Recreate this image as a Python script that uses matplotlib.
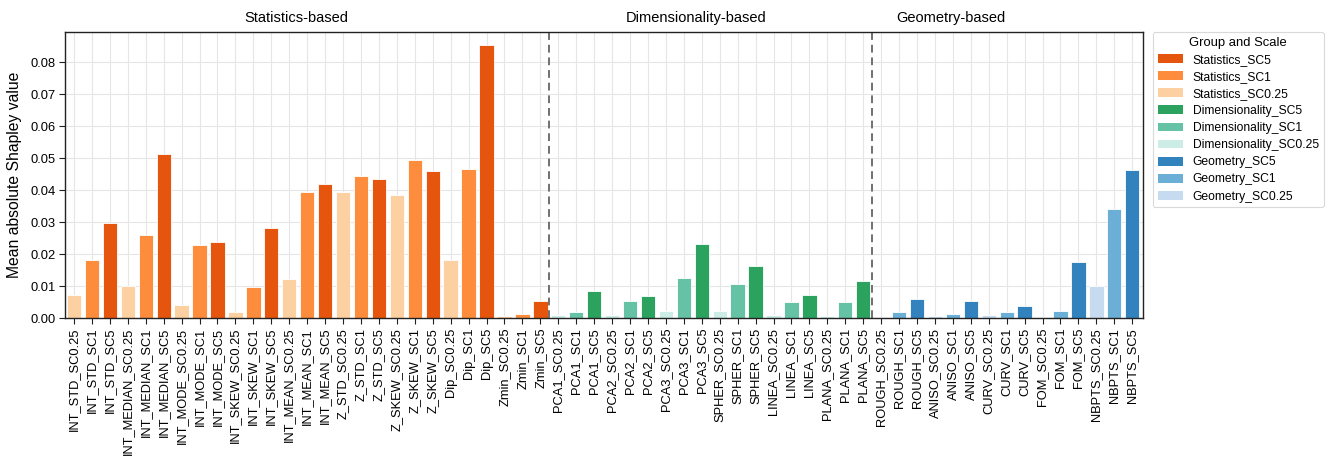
import numpy as np
import matplotlib
matplotlib.use("Agg")
import matplotlib.pyplot as plt
from matplotlib.patches import Patch

plt.rcParams['font.family'] = ['Liberation Sans', 'DejaVu Sans']

# feature prefixes per group, each evaluated at three scales
stat_features = ['INT_STD', 'INT_MEDIAN', 'INT_MODE', 'INT_SKEW', 'INT_MEAN',
                 'Z_STD', 'Z_SKEW', 'Dip', 'Zmin']
dim_features = ['PCA1', 'PCA2', 'PCA3', 'SPHER', 'LINEA', 'PLANA']
geo_features = ['ROUGH', 'ANISO', 'CURV', 'FOM', 'NBPTS']
scales = ['SC0.25', 'SC1', 'SC5']

# mean |SHAP| per feature, ordered SC0.25, SC1, SC5
stat_values = [0.0071, 0.0183, 0.0298,
               0.0101, 0.0260, 0.0514,
               0.0041, 0.0228, 0.0239,
               0.0020, 0.0097, 0.0281,
               0.0123, 0.0393, 0.0420,
               0.0393, 0.0444, 0.0435,
               0.0385, 0.0495, 0.0459,
               0.0180, 0.0465, 0.0852,
               0.0005, 0.0013, 0.0054]
dim_values = [0.0011, 0.0020, 0.0085,
              0.0011, 0.0052, 0.0069,
              0.0022, 0.0124, 0.0230,
              0.0023, 0.0105, 0.0164,
              0.0011, 0.0049, 0.0073,
              0.0007, 0.0049, 0.0117]
geo_values = [0.0003, 0.0019, 0.0059,
              0.0008, 0.0014, 0.0052,
              0.0011, 0.0019, 0.0039,
              0.0004, 0.0021, 0.0174,
              0.0100, 0.0340, 0.0463]

group_names = ['Statistics', 'Dimensionality', 'Geometry']
group_titles = ['Statistics-based', 'Dimensionality-based', 'Geometry-based']
palette = {
    'Statistics': {'SC5': '#e6550d', 'SC1': '#fd8d3c', 'SC0.25': '#fdd0a2'},
    'Dimensionality': {'SC5': '#2ca25f', 'SC1': '#66c2a4', 'SC0.25': '#ccece6'},
    'Geometry': {'SC5': '#3182bd', 'SC1': '#6baed6', 'SC0.25': '#c6dbef'},
}

labels, values, colors, groups = [], [], [], []
for gname, feats, vals in zip(group_names,
                              [stat_features, dim_features, geo_features],
                              [stat_values, dim_values, geo_values]):
    i = 0
    for f in feats:
        for sc in scales:
            labels.append(f + '_' + sc)
            values.append(vals[i])
            colors.append(palette[gname][sc])
            groups.append(gname)
            i += 1

x = np.arange(len(labels))

fig = plt.figure(figsize=(13.3, 4.61), dpi=100)
ax = fig.add_axes([0.0489, 0.310, 0.8105, 0.6206])

ax.set_axisbelow(True)
ax.grid(True, color='#e6e6e6', linewidth=0.8)
ax.bar(x, values, width=0.8, color=colors, edgecolor='white', linewidth=0.6)

# dashed separators between groups
n_stat = len(stat_values)
n_dim = len(dim_values)
for b in [n_stat - 0.5, n_stat + n_dim - 0.5]:
    ax.axvline(b, color='#707070', linestyle=(0, (4, 2.5)), linewidth=1.4)

ax.set_xlim(-0.5, len(labels) - 0.4)
ax.set_ylim(0, 0.0894)
ax.set_yticks(np.arange(0, 0.081, 0.01))
ax.set_yticklabels([f'{v:.2f}' for v in np.arange(0, 0.081, 0.01)], fontsize=9.3)
ax.set_xticks(x)
ax.set_xticklabels(labels, rotation=90, fontsize=9.3)
ax.tick_params(axis='both', direction='out', length=4, width=0.8, color='#222222', pad=3)
ax.set_ylabel('Mean absolute Shapley value', fontsize=11.3, labelpad=6)

for sp in ax.spines.values():
    sp.set_color('#222222')
    sp.set_linewidth(1.0)

# group headings above the axes
for title, xpos in zip(group_titles, [12.4, 34.7, 48.9]):
    ax.text(xpos, 1.05, title, transform=ax.get_xaxis_transform(),
            ha='center', va='center', fontsize=10.5)

handles = []
for gname in group_names:
    for sc in ['SC5', 'SC1', 'SC0.25']:
        handles.append(Patch(facecolor=palette[gname][sc], edgecolor='none',
                             label=f'{gname}_{sc}'))
leg = ax.legend(handles=handles, title='Group and Scale', loc='upper left',
                bbox_to_anchor=(1.009, 1.0), fontsize=8.7, title_fontsize=9.4,
                frameon=True, fancybox=True, edgecolor='#d0d0d0',
                handlelength=2.1, handleheight=0.75, labelspacing=0.42,
                borderaxespad=0.0, borderpad=0.4)
leg.get_frame().set_linewidth(0.8)

fig.savefig('out.png', dpi=100)
